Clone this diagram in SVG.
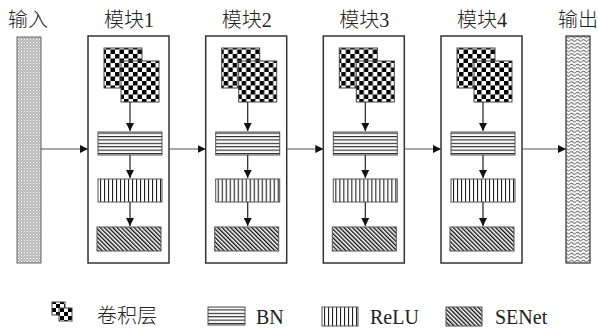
<svg xmlns="http://www.w3.org/2000/svg" width="598" height="329" viewBox="0 0 598 329">
<style>
.lbl{font-family:"Liberation Serif","Noto Sans CJK SC",serif;font-size:20px;fill:#222;text-anchor:middle;font-weight:300}
.leg{font-family:"Liberation Serif","Noto Sans CJK SC",serif;font-size:20px;fill:#222;font-weight:300}
.box{fill:#fff;stroke:#333;stroke-width:1.5}
.conn{stroke:#555;stroke-width:1;fill:none}
.arr{stroke:#222;stroke-width:1.2;fill:none}
.ck{fill:url(#checker);stroke:#444;stroke-width:1}
.ckl{fill:url(#checkerS);stroke:#444;stroke-width:1}
.bn{fill:url(#hlines);stroke:#555;stroke-width:1}
.relu{fill:url(#vlines);stroke:#555;stroke-width:1}
.se{fill:url(#diag);stroke:#555;stroke-width:1}
</style>
<defs>
<pattern id="checker" patternUnits="userSpaceOnUse" width="9" height="9">
<rect width="9" height="9" fill="#fff"/>
<rect width="4.5" height="4.5" fill="#000"/>
<rect x="4.5" y="4.5" width="4.5" height="4.5" fill="#000"/>
</pattern>
<pattern id="checkerS" patternUnits="userSpaceOnUse" width="8" height="8">
<rect width="8" height="8" fill="#fff"/>
<rect width="4" height="4" fill="#000"/>
<rect x="4" y="4" width="4" height="4" fill="#000"/>
</pattern>
<pattern id="hlines" patternUnits="userSpaceOnUse" width="6" height="3.4">
<rect width="6" height="3.4" fill="#fff"/>
<rect y="0" width="6" height="1.1" fill="#222"/>
</pattern>
<pattern id="vlines" patternUnits="userSpaceOnUse" width="4" height="6">
<rect width="4" height="6" fill="#fff"/>
<rect x="0" width="1.1" height="6" fill="#222"/>
</pattern>
<pattern id="diag" patternUnits="userSpaceOnUse" width="3" height="3" patternTransform="rotate(-45)">
<rect width="3" height="3" fill="#fff"/>
<rect width="1.4" height="3" fill="#111"/>
</pattern>
<pattern id="dots" patternUnits="userSpaceOnUse" width="3" height="3">
<rect width="3" height="3" fill="#b8b8b8"/>
<rect x="0" y="0" width="1" height="1" fill="#fff"/>
<rect x="1.5" y="1.5" width="1" height="1" fill="#eee"/>
</pattern>
<pattern id="wave" patternUnits="userSpaceOnUse" width="6" height="3.5">
<rect width="6" height="3.5" fill="#fff"/>
<path d="M0 2 Q1.5 0.2 3 2 T6 2" stroke="#444" stroke-width="0.9" fill="none"/>
</pattern>
<marker id="ah" viewBox="0 0 10 10" refX="10" refY="5" markerWidth="8" markerHeight="8" markerUnits="userSpaceOnUse" orient="auto">
<path d="M0 0 L10 5 L0 10 Z" fill="#111"/>
</marker>
</defs>

<g id="input">
<rect x="17" y="37" width="24" height="226" fill="url(#dots)" stroke="#666" stroke-width="1"/>
<text class="lbl" x="28" y="27">输入</text>
</g>

<g id="module1" transform="translate(88,0)">
<rect class="box" x="0" y="36" width="81" height="227"/>
<rect class="ck" x="16" y="48" width="38" height="40"/>
<rect class="ck" x="33" y="61" width="38" height="41"/>
<line class="arr" x1="42" y1="102" x2="42" y2="131" marker-end="url(#ah)"/>
<rect class="bn" x="10" y="132" width="64" height="23"/>
<line class="arr" x1="42" y1="155" x2="42" y2="178" marker-end="url(#ah)"/>
<rect class="relu" x="10" y="179" width="64" height="23"/>
<line class="arr" x1="42" y1="202" x2="42" y2="226" marker-end="url(#ah)"/>
<rect class="se" x="9" y="227" width="64" height="24"/>
<text class="lbl" x="41" y="27">模块1</text>
</g>

<g id="module2" transform="translate(205.7,0)">
<rect class="box" x="0" y="36" width="81" height="227"/>
<rect class="ck" x="16" y="48" width="38" height="40"/>
<rect class="ck" x="33" y="61" width="38" height="41"/>
<line class="arr" x1="42" y1="102" x2="42" y2="131" marker-end="url(#ah)"/>
<rect class="bn" x="10" y="132" width="64" height="23"/>
<line class="arr" x1="42" y1="155" x2="42" y2="178" marker-end="url(#ah)"/>
<rect class="relu" x="10" y="179" width="64" height="23"/>
<line class="arr" x1="42" y1="202" x2="42" y2="226" marker-end="url(#ah)"/>
<rect class="se" x="9" y="227" width="64" height="24"/>
<text class="lbl" x="41" y="27">模块2</text>
</g>

<g id="module3" transform="translate(323.3,0)">
<rect class="box" x="0" y="36" width="81" height="227"/>
<rect class="ck" x="16" y="48" width="38" height="40"/>
<rect class="ck" x="33" y="61" width="38" height="41"/>
<line class="arr" x1="42" y1="102" x2="42" y2="131" marker-end="url(#ah)"/>
<rect class="bn" x="10" y="132" width="64" height="23"/>
<line class="arr" x1="42" y1="155" x2="42" y2="178" marker-end="url(#ah)"/>
<rect class="relu" x="10" y="179" width="64" height="23"/>
<line class="arr" x1="42" y1="202" x2="42" y2="226" marker-end="url(#ah)"/>
<rect class="se" x="9" y="227" width="64" height="24"/>
<text class="lbl" x="41" y="27">模块3</text>
</g>

<g id="module4" transform="translate(441,0)">
<rect class="box" x="0" y="36" width="81" height="227"/>
<rect class="ck" x="16" y="48" width="38" height="40"/>
<rect class="ck" x="33" y="61" width="38" height="41"/>
<line class="arr" x1="42" y1="102" x2="42" y2="131" marker-end="url(#ah)"/>
<rect class="bn" x="10" y="132" width="64" height="23"/>
<line class="arr" x1="42" y1="155" x2="42" y2="178" marker-end="url(#ah)"/>
<rect class="relu" x="10" y="179" width="64" height="23"/>
<line class="arr" x1="42" y1="202" x2="42" y2="226" marker-end="url(#ah)"/>
<rect class="se" x="9" y="227" width="64" height="24"/>
<text class="lbl" x="41" y="27">模块4</text>
</g>

<g id="output">
<rect x="566" y="36" width="24" height="227" fill="url(#wave)" stroke="#333" stroke-width="1.2"/>
<text class="lbl" x="578" y="27">输出</text>
</g>

<g id="connectors">
<line class="conn" x1="41" y1="149" x2="88" y2="149" marker-end="url(#ah)"/>
<line class="conn" x1="169" y1="149" x2="205.7" y2="149" marker-end="url(#ah)"/>
<line class="conn" x1="286.7" y1="149" x2="323.3" y2="149" marker-end="url(#ah)"/>
<line class="conn" x1="404.3" y1="149" x2="441" y2="149" marker-end="url(#ah)"/>
<line class="conn" x1="522" y1="149" x2="566" y2="149" marker-end="url(#ah)"/>
</g>

<g id="legend">
<rect class="ckl" x="52" y="302" width="13" height="13"/>
<rect class="ckl" x="59" y="308" width="13" height="13"/>
<text class="leg" x="97" y="323">卷积层</text>
<rect class="bn" x="208" y="307" width="37" height="18"/>
<text class="leg" x="256" y="324">BN</text>
<rect class="relu" x="322" y="307" width="36" height="19"/>
<text class="leg" x="370" y="324">ReLU</text>
<rect class="se" x="446" y="307" width="36" height="19"/>
<text class="leg" x="495" y="324">SENet</text>
</g>
</svg>
